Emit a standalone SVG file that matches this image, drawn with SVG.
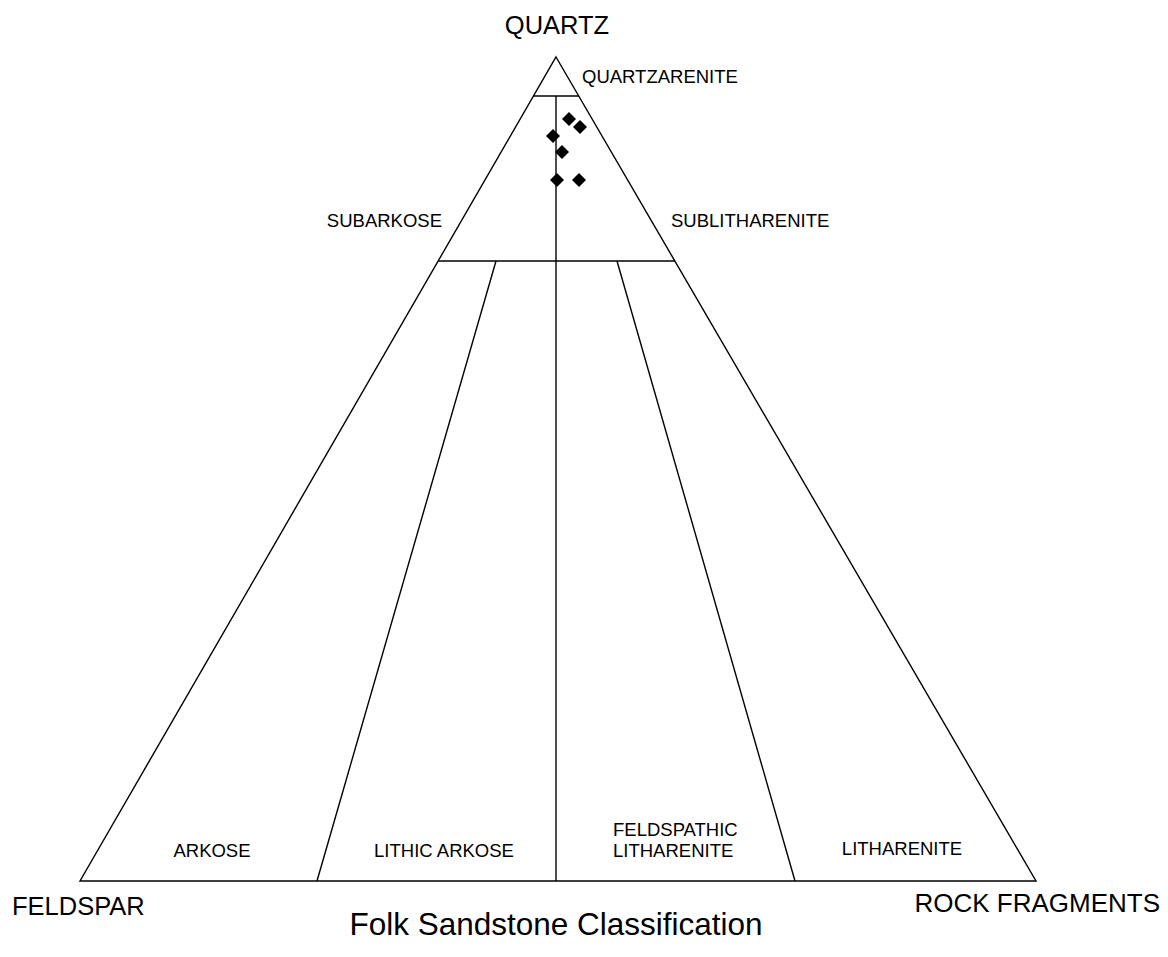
<svg xmlns="http://www.w3.org/2000/svg" width="1168" height="957" viewBox="0 0 1168 957">
<style>
.ln{stroke:#000;stroke-width:1.4;fill:none;stroke-linejoin:miter}
.t{font-family:"Liberation Sans",Arial,sans-serif;fill:#000}
.s{font-size:18.5px}
.b{font-size:25.5px}
.pt{fill:#000}
</style>
<defs>
<polygon id="dia" points="0,-7 7,0 0,7 -7,0"/>
</defs>
<rect width="1168" height="957" fill="#fff"/>
<g id="connectors">
<polygon class="ln" points="556,57 1036,881 80,881"/>
<line class="ln" x1="533" y1="96" x2="579" y2="96"/>
<line class="ln" x1="438" y1="261" x2="675" y2="261"/>
<line class="ln" x1="556" y1="96" x2="556" y2="881"/>
<line class="ln" x1="496" y1="261" x2="317" y2="881"/>
<line class="ln" x1="617" y1="261" x2="795" y2="881"/>
</g>
<g id="points">
<use href="#dia" class="pt" x="569" y="119"/>
<use href="#dia" class="pt" x="580" y="127"/>
<use href="#dia" class="pt" x="553" y="136"/>
<use href="#dia" class="pt" x="562" y="152"/>
<use href="#dia" class="pt" x="557" y="180"/>
<use href="#dia" class="pt" x="579" y="180"/>
</g>
<g id="quartz"><text class="t b" x="557" y="34" text-anchor="middle">QUARTZ</text></g>
<g id="quartzarenite"><text class="t s" x="582" y="83">QUARTZARENITE</text></g>
<g id="subarkose"><text class="t s" x="442" y="227" text-anchor="end">SUBARKOSE</text></g>
<g id="sublitharenite"><text class="t s" x="671" y="227">SUBLITHARENITE</text></g>
<g id="arkose"><text class="t s" x="212" y="857" text-anchor="middle">ARKOSE</text></g>
<g id="lithic-arkose"><text class="t s" x="444" y="857" text-anchor="middle">LITHIC ARKOSE</text></g>
<g id="feldspathic-litharenite"><text class="t s" x="613" y="836">FELDSPATHIC</text><text class="t s" x="613" y="857">LITHARENITE</text></g>
<g id="litharenite"><text class="t s" x="902" y="855" text-anchor="middle">LITHARENITE</text></g>
<g id="feldspar"><text class="t b" x="12" y="915">FELDSPAR</text></g>
<g id="rock-fragments"><text class="t" style="font-size:26px" x="1160" y="912" text-anchor="end">ROCK FRAGMENTS</text></g>
<g id="title"><text class="t" style="font-size:31.5px" x="556" y="935" text-anchor="middle">Folk Sandstone Classification</text></g>
</svg>
